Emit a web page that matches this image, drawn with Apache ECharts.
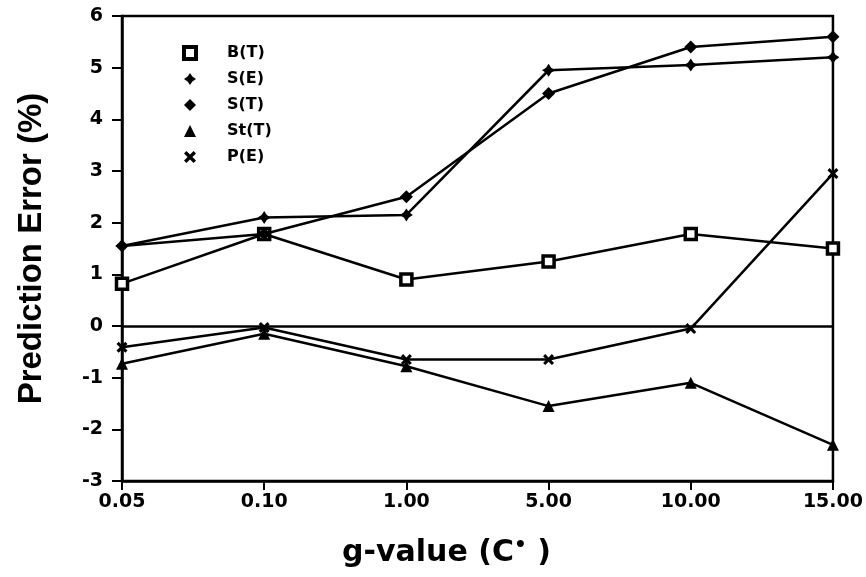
<!DOCTYPE html>
<html>
<head>
<meta charset="utf-8">
<script src="https://cdn.jsdelivr.net/npm/echarts@6/dist/echarts.min.js"></script>
<style>
  html, body { margin: 0; padding: 0; background: #fff; }
  #main { width: 866px; height: 577px; }
</style>
</head>
<body>
<div id="main"></div>
<script>
// g-value categories and prediction errors (%)
var categories = ['0.05', '0.10', '1.00', '5.00', '10.00', '15.00'];
var bT  = [0.82, 1.78, 0.90, 1.25, 1.78, 1.50];
var sE  = [1.55, 2.10, 2.15, 4.95, 5.05, 5.20];
var sT  = [1.55, 1.78, 2.50, 4.50, 5.40, 5.60];
var stT = [-0.73, -0.15, -0.78, -1.55, -1.10, -2.30];
var pE  = [-0.41, -0.03, -0.65, -0.65, -0.05, 2.95];

var FONT = 'DejaVu Sans';
var STAR = 'path://M5,0 L7,3 L10,5 L7,7 L5,10 L3,7 L0,5 L3,3 Z';
var CROSS = 'path://M0,2 L2,0 L5,3 L8,0 L10,2 L7,5 L10,8 L8,10 L5,7 L2,10 L0,8 L3,5 Z';

var myChart = echarts.init(document.getElementById('main'));

function line(name, data, symbol, size, extra) {
    var s = {
        name: name,
        type: 'line',
        data: data,
        symbol: symbol,
        symbolSize: size,
        showAllSymbol: true,
        itemStyle: {color: '#000'},
        lineStyle: {color: '#000', width: 2.5},
        z: 3
    };
    for (var k in extra) s[k] = extra[k];
    return s;
}

var option = {
    backgroundColor: '#fff',
    animation: false,
    grid: {left: 122, right: 33, top: 16, bottom: 96, show: true, borderColor: '#000', borderWidth: 2.5},
    legend: {
        orient: 'vertical',
        left: 177,
        top: 40,
        itemGap: 10,
        itemWidth: 12,
        itemHeight: 12,
        textStyle: {fontFamily: FONT, fontWeight: 'bold', fontSize: 16, color: '#000', padding: [0, 0, 0, 26]},
        data: [
            {name: 'B(T)', icon: 'rect', itemStyle: {color: '#fff', borderColor: '#000', borderWidth: 4}},
            {name: 'S(E)', icon: STAR},
            {name: 'S(T)', icon: 'diamond'},
            {name: 'St(T)', icon: 'triangle'},
            {name: 'P(E)', icon: CROSS}
        ]
    },
    xAxis: {
        type: 'category',
        data: categories,
        boundaryGap: false,
        name: 'g-value (C{sup|•} )',
        nameLocation: 'middle',
        nameGap: 55,
        nameTextStyle: {
            fontFamily: FONT, fontWeight: 'bold', fontSize: 30, color: '#000',
            padding: [0, 62, 0, 0],
            rich: {sup: {fontFamily: FONT, fontWeight: 'bold', fontSize: 20, color: '#000', padding: [0, 0, 14, 0]}}
        },
        axisLine: {onZero: false, lineStyle: {color: '#000', width: 2.5}},
        axisTick: {length: 9, lineStyle: {color: '#000', width: 2}},
        axisLabel: {fontFamily: FONT, fontWeight: 'bold', fontSize: 19, color: '#000', margin: 12},
        splitLine: {show: false}
    },
    yAxis: {
        type: 'value',
        min: -3,
        max: 6,
        interval: 1,
        name: 'Prediction Error (%)',
        nameLocation: 'middle',
        nameGap: 74,
        nameTextStyle: {fontFamily: 'Liberation Sans', fontWeight: 'bold', fontSize: 33, color: '#000'},
        axisLine: {show: true, lineStyle: {color: '#000', width: 2.5}},
        axisTick: {show: true, length: 10, lineStyle: {color: '#000', width: 2}},
        axisLabel: {fontFamily: FONT, fontWeight: 'bold', fontSize: 19, color: '#000', margin: 19},
        splitLine: {show: false}
    },
    series: [
        line('B(T)', bT, 'rect', 11, {
            itemStyle: {color: '#fff', borderColor: '#000', borderWidth: 3.5},
            markLine: {
                silent: true,
                symbol: 'none',
                label: {show: false},
                lineStyle: {color: '#000', type: 'solid', width: 2.5},
                data: [{yAxis: 0}]
            }
        }),
        line('S(E)', sE, STAR, 13),
        line('S(T)', sT, 'diamond', 13),
        line('St(T)', stT, 'triangle', 12),
        line('P(E)', pE, CROSS, 11)
    ]
};

myChart.setOption(option);
</script>
</body>
</html>
